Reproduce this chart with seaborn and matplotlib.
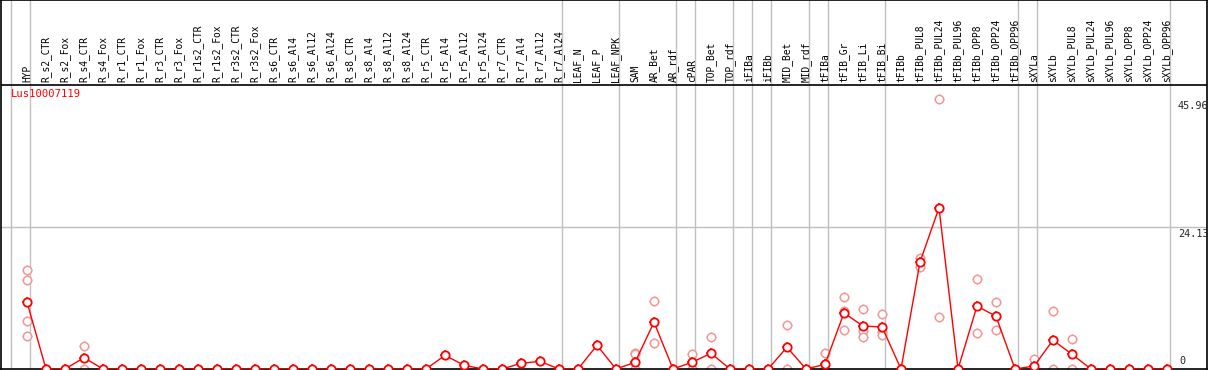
"""
Expression profile of Lus10007119 across tissues / treatments.
"""

import numpy as np
import pandas as pd
import matplotlib
matplotlib.use('Agg')
import matplotlib.pyplot as plt
import seaborn as sns

# sample groups (a grey separator is drawn after each group)
groups = [
    ['HYP'],
    ['R_s2_CTR', 'R_s2_Fox', 'R_s4_CTR', 'R_s4_Fox', 'R_r1_CTR', 'R_r1_Fox',
     'R_r3_CTR', 'R_r3_Fox', 'R_r1s2_CTR', 'R_r1s2_Fox', 'R_r3s2_CTR', 'R_r3s2_Fox',
     'R_s6_CTR', 'R_s6_Al4', 'R_s6_Al12', 'R_s6_Al24', 'R_s8_CTR', 'R_s8_Al4',
     'R_s8_Al12', 'R_s8_Al24', 'R_r5_CTR', 'R_r5_Al4', 'R_r5_Al12', 'R_r5_Al24',
     'R_r7_CTR', 'R_r7_Al4', 'R_r7_Al12', 'R_r7_Al24'],
    ['LEAF_N', 'LEAF_P', 'LEAF_NPK'],
    ['SAM', 'AR_Bet', 'AR_rdf'],
    ['cPAR'],
    ['TOP_Bet', 'TOP_rdf'],
    ['iFIBa'],
    ['iFIBb'],
    ['MID_Bet', 'MID_rdf'],
    ['tFIBa'],
    ['tFIB_Gr', 'tFIB_Li', 'tFIB_Bi'],
    ['tFIBb', 'tFIBb_PUL8', 'tFIBb_PUL24', 'tFIBb_PUL96', 'tFIBb_OPP8',
     'tFIBb_OPP24', 'tFIBb_OPP96'],
    ['sXYLa'],
    ['sXYLb', 'sXYLb_PUL8', 'sXYLb_PUL24', 'sXYLb_PUL96', 'sXYLb_OPP8',
     'sXYLb_OPP24', 'sXYLb_OPP96'],
]
samples = [s for g in groups for s in g]

# mean expression per sample
means = [
    11.4,
    0, 0, 1.93, 0, 0, 0, 0, 0, 0, 0, 0, 0, 0, 0, 0, 0, 0, 0, 0, 0,
    0, 2.33, 0.63, 0, 0, 0.97, 1.3, 0,
    0, 4.03, 0,
    1.13, 7.96, 0,
    1.14,
    2.67, 0,
    0,
    0,
    3.7, 0,
    0.8,
    9.54, 7.3, 7.15,
    0, 18.2, 27.4, 0, 10.7, 8.97, 0,
    0.5,
    4.9, 2.5, 0, 0, 0, 0, 0,
]

# individual replicates (only samples with visible replicate points)
rep_samples = ['HYP', 'HYP', 'HYP', 'HYP',
               'R_s4_CTR', 'R_s4_CTR',
               'SAM', 'SAM', 'SAM',
               'AR_Bet', 'AR_Bet',
               'cPAR', 'cPAR',
               'TOP_Bet', 'TOP_Bet',
               'MID_Bet', 'MID_Bet',
               'tFIBa', 'tFIBa',
               'tFIB_Gr', 'tFIB_Gr', 'tFIB_Gr',
               'tFIB_Li', 'tFIB_Li', 'tFIB_Li',
               'tFIB_Bi', 'tFIB_Bi', 'tFIB_Bi',
               'tFIBb_PUL8', 'tFIBb_PUL8',
               'tFIBb_PUL24', 'tFIBb_PUL24',
               'tFIBb_OPP8', 'tFIBb_OPP8',
               'tFIBb_OPP24', 'tFIBb_OPP24',
               'sXYLa', 'sXYLa',
               'sXYLb', 'sXYLb',
               'sXYLb_PUL8', 'sXYLb_PUL8']
rep_values = [16.8, 15.1, 8.2, 5.6,
              3.9, 0,
              2.8, 2.5, 0,
              11.5, 4.4,
              2.5, 0,
              5.45, 0,
              7.44, 0,
              2.67, 0,
              12.2, 9.9, 6.6,
              10.2, 6.5, 5.45,
              9.3, 6.25, 5.8,
              18.9, 17.3,
              45.96, 8.8,
              15.3, 6.08,
              11.4, 6.6,
              1.65, 0,
              9.8, 0,
              5.1, 0]

gene = 'Lus10007119'
y_marks = [45.96, 24.13, 0]


def main():
    sns.set_style('white')
    plt.rcParams['font.family'] = ['DejaVu Sans Mono', 'DejaVu Sans']

    pos = {s: i for i, s in enumerate(samples)}
    mean_df = pd.DataFrame({'x': np.arange(len(samples)), 'value': means})
    rep_df = pd.DataFrame({'x': [pos[s] for s in rep_samples], 'value': rep_values})

    W, H = 1209, 370
    fig = plt.figure(figsize=(W / 100, H / 100), dpi=100)
    ax = fig.add_axes([1 / W, 1 / H, 1206 / W, 369 / H])

    px_per_unit = 5.88
    x0, step = 27, 19
    ax.set_xlim((1 - x0) / step, (1207 - x0) / step)
    ax.set_ylim(0, 369 / px_per_unit)
    sep_y = (369 - 85) / px_per_unit

    # grey separators between groups (full height)
    bounds = [-1] + list(np.cumsum([len(g) for g in groups]) - 1)
    for b in bounds:
        ax.axvline(b + 3 / step, color='#c0c0c0', lw=1, zorder=0)
    ax.plot([ax.get_xlim()[0], ax.get_xlim()[1]], [24.13, 24.13],
            color='#c0c0c0', lw=1, zorder=0)
    ax.axhline(sep_y, color='black', lw=1.2, zorder=1)

    # replicates
    sns.scatterplot(data=rep_df, x='x', y='value', ax=ax, marker='o', s=36,
                    facecolor='white', edgecolor='#f09898', linewidth=1.1,
                    zorder=2, legend=False)
    ax.scatter(rep_df['x'], rep_df['value'], marker='+', s=62, color='#f09898',
               linewidths=1, zorder=1.9)

    # mean profile
    sns.lineplot(data=mean_df, x='x', y='value', ax=ax, color='red', lw=1,
                 zorder=3, legend=False)
    ax.scatter(mean_df['x'], mean_df['value'], marker='+', s=62, color='red',
               linewidths=1.1, zorder=3.5)
    sns.scatterplot(data=mean_df, x='x', y='value', ax=ax, marker='o', s=36,
                    facecolor='white', edgecolor='red', linewidth=1.3,
                    zorder=4, legend=False)

    # column labels
    for i, s in enumerate(samples):
        ax.text(i, sep_y + 0.5, s, rotation=90, ha='center', va='bottom',
                fontsize=6.9, color='black')

    ax.text(10 / step + ax.get_xlim()[0], sep_y - 0.6, gene, color='red',
            fontsize=7.6, ha='left', va='top')

    # value labels on the right
    x_lab = (1178 - x0) / step
    for v in y_marks:
        if v == 0:
            ax.annotate('0', (x_lab, v), xytext=(1, 3), textcoords='offset pixels',
                        fontsize=7.3, ha='left', va='bottom')
        else:
            ax.annotate(f'{v:.2f}', (x_lab, v), xytext=(0, -2),
                        textcoords='offset pixels', fontsize=7.3,
                        ha='left', va='top')

    ax.set_xlabel('')
    ax.set_ylabel('')
    ax.set_xticks([])
    ax.set_yticks([])
    for sp in ax.spines.values():
        sp.set_visible(True)
        sp.set_color('black')
        sp.set_linewidth(1.2)

    plt.savefig('out.png', dpi=100)
    plt.close()


if __name__ == '__main__':
    main()
